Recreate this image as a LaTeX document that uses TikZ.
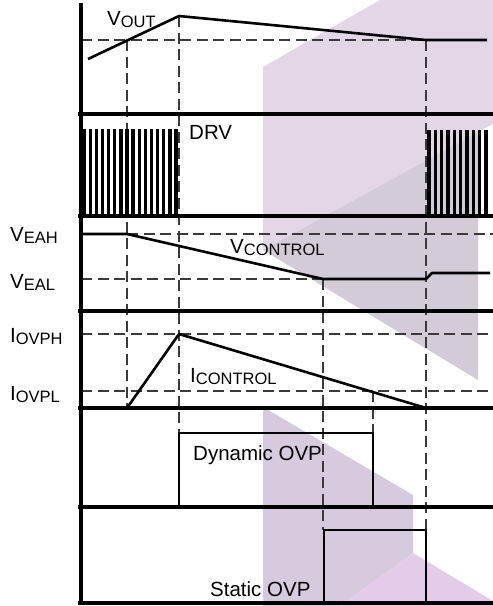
\documentclass[tikz,border=0pt]{standalone}
\usepackage{fontspec}
\setmainfont{Liberation Sans}
\definecolor{WashLilac}{HTML}{E3D6E6}
\definecolor{WashGray}{HTML}{D4CBD9}
\definecolor{WashMauve}{HTML}{D7CADF}
\definecolor{WashPink}{HTML}{E3CBEA}
\definecolor{Guide}{HTML}{3A3A3A}
\newcommand{\mainsize}{\fontsize{20.5}{23}\selectfont}
\newcommand{\subsize}{\fontsize{16.5}{19}\selectfont}
\newcommand{\siglbl}[2]{#1\raisebox{-2.5pt}{\subsize #2}}
\tikzset{
  axisline/.style={line width=3.2pt},
  wave/.style={line width=2.6pt, line join=round},
  guide/.style={line width=1.4pt, draw=Guide, dash pattern=on 11pt off 5.5pt},
  window/.style={line width=2.4pt},
  pulse/.style={fill=black},
  siglabel/.style={anchor=base west, inner sep=0pt, font=\mainsize}
}

\begin{document}
\begin{tikzpicture}[x=1pt,y=-1pt]
  \useasboundingbox (0,0) rectangle (493,606);
  \fill[white] (0,0) rectangle (493,606);
  % background wash
  \fill[WashLilac] (263,67) -- (380,0) -- (493,0) -- (493,124) -- (478,132) -- (263,250) -- cycle;
  \fill[WashGray] (263,250) -- (478,132) -- (478,380) -- cycle;
  \fill[WashMauve] (263,407) -- (413,495) -- (413,553) -- (340,606) -- (263,606) -- cycle;
  \fill[WashPink] (340,606) -- (413,553) -- (493,601) -- (493,606) -- cycle;
  % guides
  \draw[guide] (81,40) -- (426,40);
  \draw[guide] (127,234) -- (493,234);
  \draw[guide] (81,279) -- (323,279);
  \draw[guide] (81,334) -- (493,334);
  \draw[guide] (81,391) -- (493,391);
  \draw[guide] (127,40) -- (127,408);
  \draw[guide] (179,16) -- (179,433);
  \draw[guide] (323,279) -- (323,530);
  \draw[guide] (373,391) -- (373,433);
  \draw[guide] (426,40) -- (426,530);
  % axes
  \foreach \y in {114,216,311,408,507,603}
    \draw[axisline] (78,\y) -- (493,\y);
  \draw[axisline] (81,3) -- (81,605);
  % gate drive bursts
  \foreach \i in {0,...,15}
    \fill[pulse] ({82.4+6.13*\i},216) rectangle ++(3.4,-87);
  \foreach \i in {0,...,9}
    \fill[pulse] ({427.4+6.3*\i},216) rectangle ++(3.4,-86);
  % waveforms
  \draw[wave] (88,59) -- (179,16) -- (426,40) -- (487,40);
  \draw[wave] (81,234) -- (127,234) -- (323,279) -- (426,279) -- (432,273) -- (490,273);
  \draw[wave] (127,408) -- (179,334) -- (426,408);
  \draw[window] (179,507) |- (373,433) -- (373,507);
  \draw[window] (324,603) |- (426,530) -- (426,603);
  % labels
  \node[siglabel] (vout) at (107,25) {\siglbl{V}{OUT}};
  \node[siglabel] (drv) at (189,139) {DRV};
  \node[siglabel] (veah) at (10,241) {\siglbl{V}{EAH}};
  \node[siglabel] (veal) at (10,288) {\siglbl{V}{EAL}};
  \node[siglabel] (vctl) at (230,253) {\siglbl{V}{CONTROL}};
  \node[siglabel] (iovph) at (10,342) {\siglbl{I}{OVPH}};
  \node[siglabel] (iovpl) at (10,400) {\siglbl{I}{OVPL}};
  \node[siglabel] (ictl) at (190,382) {\siglbl{I}{CONTROL}};
  \node[siglabel] (dynovp) at (193,460) {Dynamic OVP};
  \node[siglabel] (statovp) at (210,596) {Static OVP};
\end{tikzpicture}
\end{document}
